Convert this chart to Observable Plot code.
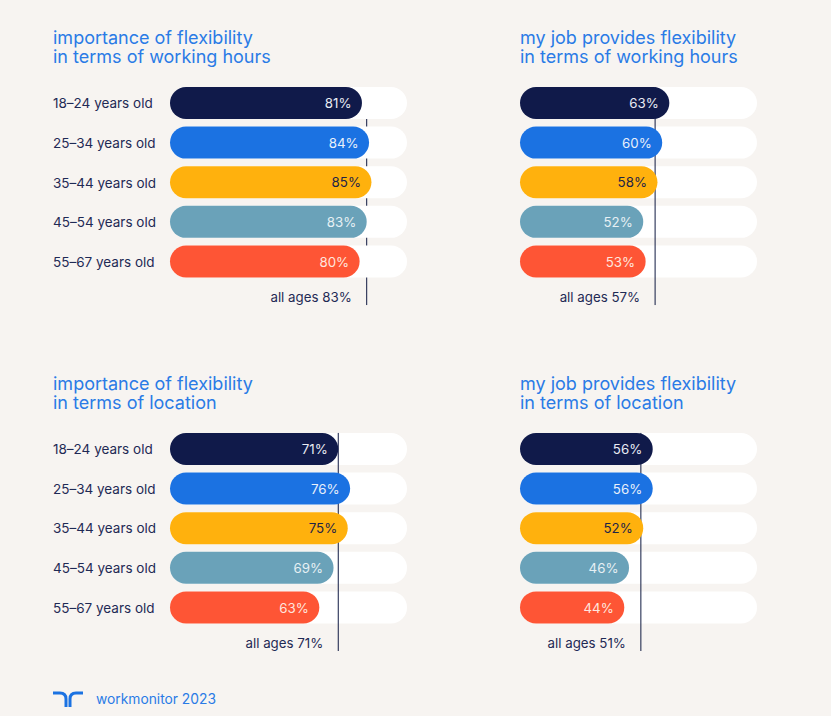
<!DOCTYPE html>
<html>
<head>
<meta charset="utf-8">
<script src="https://cdn.jsdelivr.net/npm/d3@7"></script>
<script src="https://cdn.jsdelivr.net/npm/@observablehq/plot@0.6"></script>
<style>
html,body{margin:0;padding:0;background:#f7f4f1;}
#wrap{position:relative;width:831px;height:716px;overflow:hidden;font-family:Inter,sans-serif;}
#wrap svg.chart{display:block;}
#foot{position:absolute;left:53px;top:688px;height:22px;display:flex;align-items:center;color:#2a7be6;font-size:13.8px;}
#foot svg{margin-right:13px;display:block;}
</style>
</head>
<body>
<div id="wrap"><div id="chart"></div>
<div id="foot"><svg width="30" height="18" viewBox="0 0 30 18"><path d="M0 3H7Q13 3 13 9V17M30 3H23Q17 3 17 9V17" fill="none" stroke="#1b72e2" stroke-width="3"/></svg><span>workmonitor 2023</span></div>
</div>
<script>
const ages = ["18–24 years old","25–34 years old","35–44 years old","45–54 years old","55–67 years old"];
const allAgesRow = "all ages";
const barColors = ["#101a4a","#1b72e2","#ffb10d","#6aa2b9","#fe5535"];
const labelColors = ["#e8ebf3","#e8f0fb","#1f2447","#e6f0f4","#ffe6df"];
const navy = "#0f1941";
const ink = "#1f2a55";
const blue = "#2a7be6";

const hoursImportance = [81,84,85,83,80];
const hoursProvided = [63,60,58,52,53];
const locationImportance = [71,76,75,69,63];
const locationProvided = [56,56,52,46,44];
const allAges = [83,57,71,51];
const titles = [
  "importance of flexibility\nin terms of working hours",
  "my job provides flexibility\nin terms of working hours",
  "importance of flexibility\nin terms of location",
  "my job provides flexibility\nin terms of location"
];
const panelCols = ["left","right","left","right"];
const panelRows = ["hours","hours","location","location"];
const panelValues = [hoursImportance,hoursProvided,locationImportance,locationProvided];

const panels = titles.map((title,i)=>({title,col:panelCols[i],row:panelRows[i],all:allAges[i],index:i}));
const bars = panels.flatMap(p=>ages.map((age,j)=>({
  age,value:panelValues[p.index][j],col:p.col,row:p.row,panel:p.index,labelColor:labelColors[j]
})));
const facet = {fx:"col",fy:"row"};
const fontSize = 13.3;

const chart = Plot.plot({
  width:831,height:716,
  marginLeft:170,marginRight:74,marginTop:87,marginBottom:53,
  style:{background:"transparent",fontFamily:"Inter, sans-serif",overflow:"visible"},
  x:{domain:[0,100],axis:null},
  y:{domain:[...ages,allAgesRow],axis:null,paddingInner:0.192,paddingOuter:0,round:false},
  fx:{domain:["left","right"],axis:null,paddingInner:0.3229,paddingOuter:0,round:false},
  fy:{domain:["hours","location"],axis:null,paddingInner:0.335,paddingOuter:0,round:false},
  color:{domain:ages,range:barColors},
  marks:[
    // first panel: the reference line runs behind the white tracks
    Plot.ruleX(panels.filter(p=>p.index===0),{x:"all",y1:()=>ages[0],y2:()=>allAgesRow,insetBottom:12,dx:-0.5,stroke:navy,strokeWidth:1,...facet}),
    Plot.barX(bars,{x1:()=>0,x2:()=>100,y:"age",fill:"#ffffff",rx:16,...facet}),
    Plot.ruleX(panels.filter(p=>p.index!==0),{x:"all",y1:()=>ages[0],y2:()=>allAgesRow,insetBottom:12,dx:-0.5,stroke:navy,strokeWidth:1,...facet}),
    Plot.barX(bars,{x1:()=>0,x2:"value",y:"age",fill:"age",rx:16,...facet}),
    Plot.text(bars,{x:"value",y:"age",text:d=>d.value+"%",fill:"labelColor",textAnchor:"end",dx:-11,dy:0.5,fontSize,...facet}),
    Plot.text(bars.filter(d=>d.col==="left"),{x:()=>0,y:"age",text:"age",textAnchor:"start",dx:-117.5,dy:0.5,fill:ink,fontSize:13.5,...facet}),
    Plot.text(panels,{x:"all",y:()=>allAgesRow,text:d=>"all ages "+d.all+"%",textAnchor:"end",dx:-15.5,dy:-3.5,fill:ink,fontSize,...facet}),
    Plot.text(panels.filter(p=>p.col==="left"),{text:"title",frameAnchor:"top-left",lineAnchor:"top",dx:-117.5,dy:-57,lineHeight:1.05,fill:blue,fontSize:18,...facet}),
    Plot.text(panels.filter(p=>p.col==="right"),{text:"title",frameAnchor:"top-left",lineAnchor:"top",dx:-0.5,dy:-57,lineHeight:1.05,fill:blue,fontSize:18,...facet})
  ]
});
chart.classList.add("chart");
document.getElementById("chart").appendChild(chart);
</script>
</body>
</html>
